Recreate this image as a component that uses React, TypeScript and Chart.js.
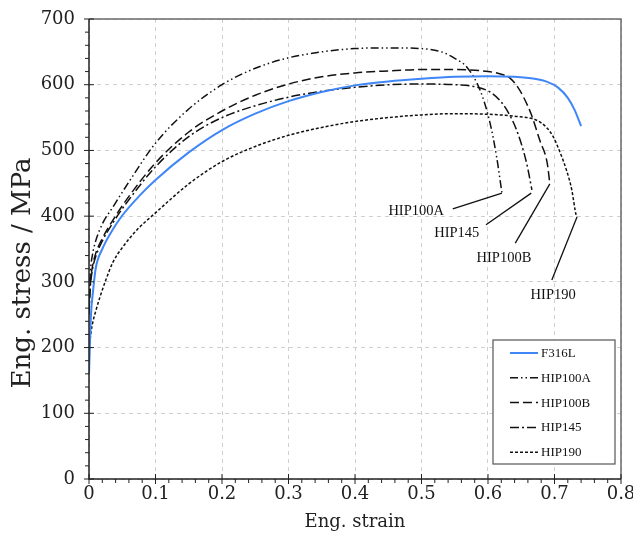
import React, { useEffect, useRef } from "react";
import { Chart, registerables } from "chart.js";

Chart.register(...registerables);

// ---------- data ----------
const SERIES_NAMES = ["F316L", "HIP100A", "HIP100B", "HIP145", "HIP190"];

const F316L_STRAIN = [0, 0.003, 0.006, 0.01, 0.02, 0.036, 0.05, 0.075, 0.1, 0.15, 0.2, 0.25, 0.3, 0.35, 0.4, 0.45, 0.5, 0.55, 0.6, 0.64, 0.67, 0.69, 0.705, 0.72, 0.73, 0.74];
const F316L_STRESS = [160, 250, 285, 320, 350, 380, 401, 430, 455, 497, 531, 556, 575, 589, 599, 605, 609, 612, 613, 612, 609, 604, 596, 580, 562, 537];

const HIP100A_STRAIN = [0, 0.002, 0.005, 0.01, 0.02, 0.036, 0.06, 0.1, 0.15, 0.2, 0.25, 0.3, 0.35, 0.4, 0.45, 0.5, 0.53, 0.55, 0.568, 0.588, 0.603, 0.613, 0.621];
const HIP100A_STRESS = [270, 315, 340, 362, 388, 414, 452, 511, 563, 600, 625, 641, 650, 655, 656, 655, 650, 640, 627, 592, 542, 490, 435];

const HIP100B_STRAIN = [0, 0.002, 0.005, 0.01, 0.02, 0.036, 0.06, 0.1, 0.15, 0.2, 0.25, 0.3, 0.35, 0.4, 0.45, 0.5, 0.55, 0.6, 0.62, 0.633, 0.645, 0.653, 0.665, 0.678, 0.689, 0.693];
const HIP100B_STRESS = [255, 298, 322, 343, 366, 394, 430, 481, 528, 560, 584, 601, 612, 618, 621, 623, 623, 620, 616, 610, 596, 582, 555, 515, 481, 449];

const HIP145_STRAIN = [0, 0.002, 0.005, 0.01, 0.02, 0.036, 0.06, 0.1, 0.15, 0.2, 0.25, 0.3, 0.35, 0.4, 0.45, 0.5, 0.55, 0.58, 0.603, 0.618, 0.628, 0.643, 0.658, 0.666];
const HIP145_STRESS = [250, 292, 318, 338, 362, 390, 425, 475, 521, 550, 568, 581, 590, 596, 600, 601, 600, 597, 589, 576, 562, 531, 481, 440];

const HIP190_STRAIN = [0, 0.002, 0.005, 0.01, 0.0165, 0.025, 0.036, 0.05, 0.072, 0.1, 0.15, 0.2, 0.25, 0.3, 0.35, 0.4, 0.45, 0.5, 0.55, 0.6, 0.64, 0.673, 0.688, 0.698, 0.708, 0.718, 0.726, 0.731, 0.733];
const HIP190_STRESS = [190, 215, 235, 255, 277, 302, 330, 352, 379, 405, 449, 483, 506, 523, 535, 544, 550, 554, 556, 555, 552, 546, 535, 521, 498, 470, 440, 409, 399];

const X_TICKS = [0, 0.1, 0.2, 0.3, 0.4, 0.5, 0.6, 0.7, 0.8];
const Y_TICKS = [0, 100, 200, 300, 400, 500, 600, 700];
const X_MINOR_STEP = 0.02;
const Y_MINOR_STEP = 20;

const X_TITLE = "Eng. strain";
const Y_TITLE = "Eng. stress / MPa";

// curve labels with leader lines (data units)
const CALLOUT_LABELS = ["HIP100A", "HIP145", "HIP100B", "HIP190"];
const CALLOUT_TEXT_X = [0.492, 0.553, 0.624, 0.698];
const CALLOUT_TEXT_Y = [408, 374, 336, 279];
const CALLOUT_FROM_X = [0.547, 0.597, 0.641, 0.696];
const CALLOUT_FROM_Y = [411, 387, 359, 303];
const CALLOUT_TO_X = [0.621, 0.665, 0.693, 0.734];
const CALLOUT_TO_Y = [435, 435, 449, 399];

const zip = (xs: number[], ys: number[]) => xs.map((x, i) => ({ x, y: ys[i] }));

const SERIF = "'DejaVu Serif', serif";
const TIMES = "'Liberation Serif', 'DejaVu Serif', serif";

const framePlugin = {
  id: "frame",
  afterDraw(chart: any) {
    const { ctx, chartArea: a, scales } = chart;
    const xs = scales.x;
    const ys = scales.y;
    ctx.save();
    // top & right border
    ctx.strokeStyle = "#6a6a6a";
    ctx.lineWidth = 1.5;
    ctx.beginPath();
    ctx.moveTo(a.left, a.top);
    ctx.lineTo(a.right, a.top);
    ctx.lineTo(a.right, a.bottom);
    ctx.stroke();
    // left & bottom axes
    ctx.strokeStyle = "#222";
    ctx.beginPath();
    ctx.moveTo(a.left, a.top);
    ctx.lineTo(a.left, a.bottom);
    ctx.lineTo(a.right, a.bottom);
    ctx.stroke();
    // ticks
    ctx.lineWidth = 1;
    const nx = Math.round((X_TICKS[X_TICKS.length - 1] - X_TICKS[0]) / X_MINOR_STEP);
    for (let i = 0; i <= nx; i++) {
      const v = X_TICKS[0] + i * X_MINOR_STEP;
      const px = xs.getPixelForValue(v);
      const major = i % 5 === 0;
      ctx.beginPath();
      ctx.moveTo(px, a.bottom - (major ? 5 : 0));
      ctx.lineTo(px, a.bottom + (major ? 5 : 4));
      ctx.stroke();
    }
    const ny = Math.round((Y_TICKS[Y_TICKS.length - 1] - Y_TICKS[0]) / Y_MINOR_STEP);
    for (let i = 0; i <= ny; i++) {
      const v = Y_TICKS[0] + i * Y_MINOR_STEP;
      const py = ys.getPixelForValue(v);
      const major = i % 5 === 0;
      ctx.beginPath();
      ctx.moveTo(a.left - (major ? 5 : 4), py);
      ctx.lineTo(a.left + (major ? 5 : 0), py);
      ctx.stroke();
    }

    // y-axis title
    ctx.save();
    ctx.translate(23, a.top + 254);
    ctx.rotate(-Math.PI / 2);
    ctx.fillStyle = "#222";
    ctx.font = `26px ${SERIF}`;
    ctx.textAlign = "center";
    ctx.textBaseline = "middle";
    ctx.fillText(Y_TITLE, 0, 0);
    ctx.restore();

    // legend box
    const bw = 122;
    const bh = 124;
    const bx = a.right - 6 - bw;
    const by = a.bottom - 15 - bh;
    ctx.fillStyle = "#fff";
    ctx.fillRect(bx, by, bw, bh);
    ctx.strokeStyle = "#555";
    ctx.lineWidth = 1.2;
    ctx.strokeRect(bx, by, bw, bh);
    ctx.font = `13px ${TIMES}`;
    ctx.textBaseline = "middle";
    ctx.textAlign = "left";
    chart.data.datasets.forEach((ds: any, i: number) => {
      const yy = by + 13 + i * 24.8;
      ctx.save();
      ctx.strokeStyle = ds.borderColor;
      ctx.lineWidth = ds.borderWidth;
      ctx.setLineDash(ds.borderDash || []);
      ctx.beginPath();
      ctx.moveTo(bx + 17, yy);
      ctx.lineTo(bx + 45, yy);
      ctx.stroke();
      ctx.restore();
      ctx.fillStyle = "#111";
      ctx.fillText(ds.label, bx + 48, yy + 0.5);
    });
    ctx.restore();
  },
};

const calloutPlugin = {
  id: "callouts",
  afterDatasetsDraw(chart: any) {
    const { ctx, scales } = chart;
    const xs = scales.x;
    const ys = scales.y;
    ctx.save();
    ctx.strokeStyle = "#111";
    ctx.lineWidth = 1.3;
    ctx.fillStyle = "#111";
    ctx.font = `14.5px ${TIMES}`;
    ctx.textAlign = "center";
    ctx.textBaseline = "middle";
    CALLOUT_LABELS.forEach((lab, i) => {
      ctx.beginPath();
      ctx.moveTo(xs.getPixelForValue(CALLOUT_FROM_X[i]), ys.getPixelForValue(CALLOUT_FROM_Y[i]));
      ctx.lineTo(xs.getPixelForValue(CALLOUT_TO_X[i]), ys.getPixelForValue(CALLOUT_TO_Y[i]));
      ctx.stroke();
      ctx.fillText(lab, xs.getPixelForValue(CALLOUT_TEXT_X[i]), ys.getPixelForValue(CALLOUT_TEXT_Y[i]));
    });
    ctx.restore();
  },
};

export default function App() {
  const ref = useRef<HTMLCanvasElement | null>(null);

  useEffect(() => {
    if (!ref.current) return;
    const common = {
      pointRadius: 0,
      fill: false,
      cubicInterpolationMode: "monotone" as const,
    };
    const chart = new Chart(ref.current, {
      type: "line",
      data: {
        datasets: [
          { ...common, label: SERIES_NAMES[0], data: zip(F316L_STRAIN, F316L_STRESS), borderColor: "#3f86f7", borderWidth: 2, borderDash: [] },
          { ...common, label: SERIES_NAMES[1], data: zip(HIP100A_STRAIN, HIP100A_STRESS), borderColor: "#111", borderWidth: 1.5, borderDash: [8, 3, 1.5, 3, 1.5, 3] },
          { ...common, label: SERIES_NAMES[2], data: zip(HIP100B_STRAIN, HIP100B_STRESS), borderColor: "#111", borderWidth: 1.5, borderDash: [9, 4] },
          { ...common, label: SERIES_NAMES[3], data: zip(HIP145_STRAIN, HIP145_STRESS), borderColor: "#111", borderWidth: 1.5, borderDash: [9, 3, 2, 3] },
          { ...common, label: SERIES_NAMES[4], data: zip(HIP190_STRAIN, HIP190_STRESS), borderColor: "#111", borderWidth: 1.5, borderDash: [3, 2] },
        ],
      },
      options: {
        animation: false,
        responsive: true,
        maintainAspectRatio: false,
        layout: { padding: { top: 19, right: 12, left: 0, bottom: 0 } },
        plugins: { legend: { display: false }, tooltip: { enabled: false } },
        scales: {
          x: {
            type: "linear",
            min: X_TICKS[0],
            max: X_TICKS[X_TICKS.length - 1],
            afterBuildTicks: (s: any) => { s.ticks = X_TICKS.map((v) => ({ value: v })); },
            afterFit: (s: any) => { s.height = 63; s.paddingLeft = 0; s.paddingRight = 0; },
            grid: { color: "#cfcfcf", lineWidth: 1, drawTicks: false },
            border: { display: false, dash: [4, 4] },
            ticks: {
              padding: 5,
              color: "#222",
              font: { family: SERIF, size: 18 },
              callback: (v: any) => String(Math.round(Number(v) * 10) / 10),
            },
            title: {
              display: true,
              text: X_TITLE,
              color: "#222",
              font: { family: SERIF, size: 18 },
              padding: { top: 0, bottom: 9 },
            },
          },
          y: {
            type: "linear",
            min: Y_TICKS[0],
            max: Y_TICKS[Y_TICKS.length - 1],
            afterBuildTicks: (s: any) => { s.ticks = Y_TICKS.map((v) => ({ value: v })); },
            afterFit: (s: any) => { s.width = 89; s.paddingTop = 0; s.paddingBottom = 0; },
            grid: { color: "#cfcfcf", lineWidth: 1, drawTicks: false },
            border: { display: false, dash: [4, 4] },
            ticks: {
              padding: 14,
              color: "#222",
              font: { family: SERIF, size: 18 },
            },
            title: { display: false },
          },
        },
      },
      plugins: [framePlugin, calloutPlugin],
    } as any);
    return () => chart.destroy();
  }, []);

  return (
    <div style={{ position: "fixed", left: 0, top: 0, width: 633, height: 542 }}>
      <canvas ref={ref} />
    </div>
  );
}
